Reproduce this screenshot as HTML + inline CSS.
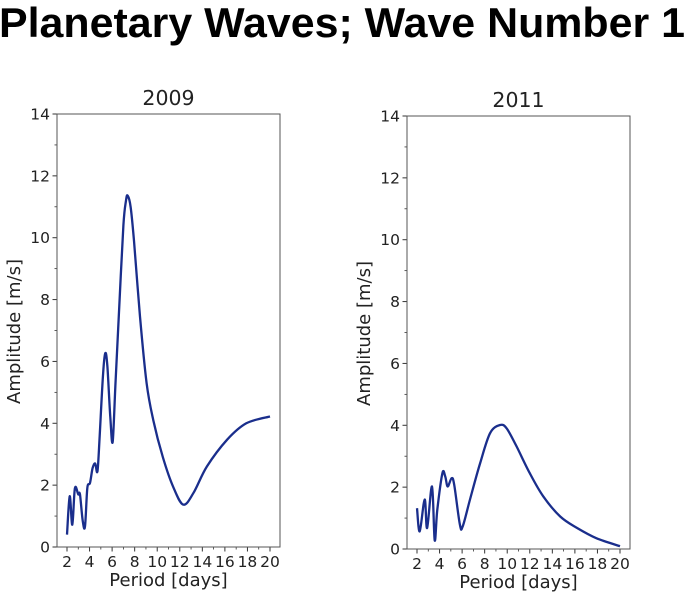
<!DOCTYPE html>
<html><head><meta charset="utf-8"><style>
html,body{margin:0;padding:0;background:#fff;}
svg{display:block;font-family:"DejaVu Sans","Liberation Sans",sans-serif;}
</style></head><body>
<svg id="fig" width="685" height="595" viewBox="0 0 685 595">
<text x="-1" y="37" font-family="Liberation Sans, sans-serif" font-weight="bold" font-size="42" textLength="686" lengthAdjust="spacingAndGlyphs" fill="#000">Planetary Waves; Wave Number 1</text>
</svg>
<script>
const xTicks=[2,4,6,8,10,12,14,16,18,20];
const yTicks=[0,2,4,6,8,10,12,14];
const x2009=[2.0,2.24,2.47,2.7,3.0,3.15,3.4,3.6,3.8,4.04,4.27,4.5,4.7,4.9,5.2,5.4,5.58,5.84,6.05,6.3,6.64,7.0,7.23,7.38,7.64,7.94,8.47,9.06,9.65,10.5,11.4,12.3,13.2,14.4,16.2,17.9,20];
const y2009=[0.4,1.64,0.72,1.9,1.7,1.7,0.83,0.67,1.9,2.07,2.55,2.7,2.45,3.6,5.6,6.27,5.84,4.2,3.4,5.3,7.8,10.4,11.2,11.36,11.0,9.9,7.45,5.3,4.1,2.9,1.96,1.37,1.74,2.6,3.47,4.0,4.22];
const x2011=[2.0,2.24,2.68,2.9,3.33,3.57,3.8,4.25,4.5,4.72,5.07,5.3,5.8,6.05,6.7,7.6,8.47,9.36,9.95,10.84,12.0,13.2,14.7,16.2,17.9,20];
const y2011=[1.32,0.57,1.6,0.68,2.02,0.28,1.27,2.45,2.35,2.02,2.29,2.08,0.79,0.73,1.6,2.78,3.74,4.01,3.9,3.31,2.45,1.7,1.05,0.68,0.35,0.09];
const NS='http://www.w3.org/2000/svg';
const svg=document.getElementById('fig');
function mk(tag,attrs,parent){const e=document.createElementNS(NS,tag);for(const k in attrs)e.setAttribute(k,attrs[k]);(parent||svg).appendChild(e);return e;}
function smoothPath(p){
  let d='M'+p[0][0].toFixed(1)+','+p[0][1].toFixed(1);
  for(let i=0;i<p.length-1;i++){
    const p0=p[i-1]||p[i],p1=p[i],p2=p[i+1],p3=p[i+2]||p2;
    const t=1/6;
    const c1=[p1[0]+(p2[0]-p0[0])*t,p1[1]+(p2[1]-p0[1])*t];
    const c2=[p2[0]-(p3[0]-p1[0])*t,p2[1]-(p3[1]-p1[1])*t];
    d+=' C'+c1.map(v=>v.toFixed(1)).join(',')+' '+c2.map(v=>v.toFixed(1)).join(',')+' '+p2[0].toFixed(1)+','+p2[1].toFixed(1);
  }
  return d;
}
function panel(name,title,L,R,T,B,xs,ys){
  const g=mk('g',{});
  
  
  const x0=L+10,x1=R-10;
  const sx=v=>x0+(v-2)*(x1-x0)/18;
  const sy=v=>B-v*(B-T)/14;
  const t=mk('text',{x:(L+R)/2,y:T-9,'text-anchor':'middle','font-size':'20.5',fill:'#222'},g);
  t.textContent=title;
  
  
  for(let v=1;v<14;v+=2){mk('line',{x1:L,x2:L-2.5,y1:sy(v),y2:sy(v),stroke:'#333','stroke-width':0.8},g);}
  for(let v=3;v<20;v+=2){mk('line',{x1:sx(v),x2:sx(v),y1:B,y2:B+2.5,stroke:'#333','stroke-width':0.8},g);}
  yTicks.forEach(v=>{
    mk('line',{x1:L,x2:L-4.5,y1:sy(v),y2:sy(v),stroke:'#333','stroke-width':1},g);
    const tl=mk('text',{x:L-7,y:sy(v)+5.5,'text-anchor':'end','font-size':'15.5',fill:'#222'},g);
    tl.textContent=v;
    
    
  });
  xTicks.forEach(v=>{
    mk('line',{x1:sx(v),x2:sx(v),y1:B,y2:B+4.5,stroke:'#333','stroke-width':1},g);
    const tl=mk('text',{x:sx(v),y:B+20,'text-anchor':'middle','font-size':'15.5',fill:'#222'},g);
    tl.textContent=v;
    
    
  });
  const xl=mk('text',{x:(L+R)/2,y:B+39,'text-anchor':'middle','font-size':'18',fill:'#222'},g);
  xl.textContent='Period [days]';
  
  
  const cy=(T+B)/2+1;
  const yl=mk('text',{x:L-37,y:cy,'text-anchor':'middle','font-size':'18',fill:'#222',transform:`rotate(-90 ${L-37} ${cy})`},g);
  yl.textContent='Amplitude [m/s]';
  
  
  const pts=xs.map((v,i)=>[sx(v),sy(ys[i])]);
  const pl=mk('path',{d:smoothPath(pts),fill:'none',stroke:'#1a2e8c','stroke-width':2.3,'stroke-linejoin':'round'},g);
  
  
  const fr=mk('rect',{x:L,y:T,width:R-L,height:B-T,fill:'none',stroke:'#555','stroke-width':1},g);
  
  
}
panel('panel-2009','2009',57,280,114,547,x2009,y2009);
panel('panel-2011','2011',407,630,116,549,x2011,y2011);
</script>
</body></html>
